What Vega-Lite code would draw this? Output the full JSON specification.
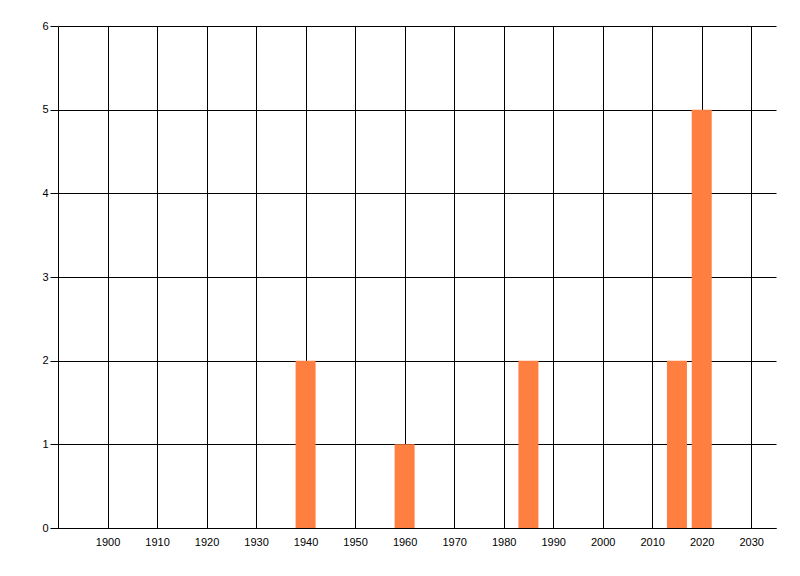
{
  "$schema": "https://vega.github.io/schema/vega-lite/v6.json",
  "width": 718,
  "height": 502,
  "autosize": {"type": "none"},
  "padding": {"left": 58, "top": 26, "right": 24, "bottom": 48},
  "background": "white",
  "view": {"stroke": null},
  "data": {
    "values": [
      {"year": 1940, "count": 2},
      {"year": 1960, "count": 1},
      {"year": 1985, "count": 2},
      {"year": 2015, "count": 2},
      {"year": 2020, "count": 5}
    ]
  },
  "mark": {"type": "bar", "size": 20, "color": "#FF7F40", "opacity": 1},
  "encoding": {
    "x": {
      "field": "year",
      "type": "quantitative",
      "scale": {"domain": [1890, 2035], "nice": false, "zero": false, "padding": 0},
      "axis": {
        "title": null,
        "values": [1900, 1910, 1920, 1930, 1940, 1950, 1960, 1970, 1980, 1990, 2000, 2010, 2020, 2030],
        "format": "d",
        "grid": true,
        "gridColor": "black",
        "gridOpacity": 1,
        "gridWidth": 1,
        "ticks": false,
        "domainColor": "black",
        "domainWidth": 1,
        "labelPadding": 8,
        "labelFont": "Liberation Sans",
        "labelFontSize": 11,
        "labelColor": "black",
        "labelFlush": false,
        "labelOverlap": false
      }
    },
    "y": {
      "field": "count",
      "type": "quantitative",
      "scale": {"domain": [0, 6], "nice": false},
      "axis": {
        "title": null,
        "values": [0, 1, 2, 3, 4, 5, 6],
        "format": "d",
        "grid": true,
        "gridColor": "black",
        "gridOpacity": 1,
        "gridWidth": 1,
        "ticks": true,
        "tickSize": 8,
        "tickColor": "black",
        "domainColor": "black",
        "domainWidth": 1,
        "labelPadding": 2,
        "labelFont": "Liberation Sans",
        "labelFontSize": 11,
        "labelColor": "black",
        "labelFlush": false,
        "labelOverlap": false
      }
    }
  }
}
